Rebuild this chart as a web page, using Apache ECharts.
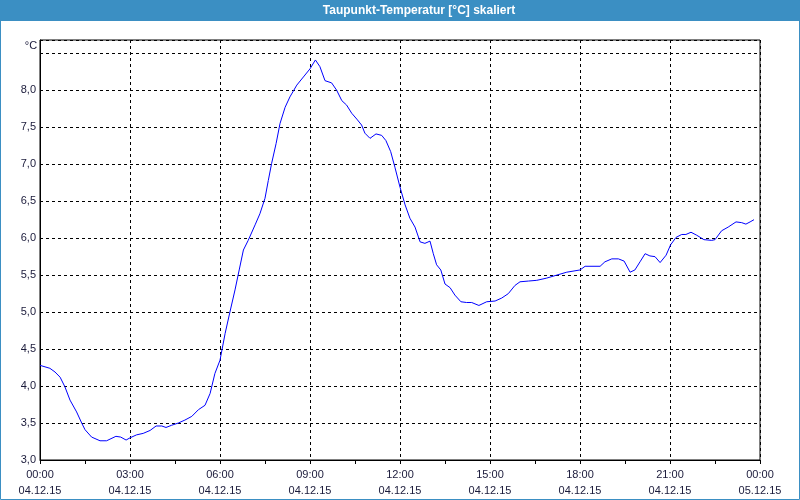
<!DOCTYPE html>
<html><head><meta charset="utf-8">
<script src="https://cdn.jsdelivr.net/npm/echarts@6/dist/echarts.min.js"></script>
<style>html,body{margin:0;padding:0;background:#fff}#c{width:800px;height:500px}</style>
</head><body><div id="c"></div>
<script>
const chartTitle = 'Taupunkt-Temperatur [°C] skaliert';
const unitLabel = '°C';
const hours = [0,0.33,0.5,0.67,0.83,1.0,1.22,1.39,1.5,1.72,2.0,2.22,2.53,2.69,2.87,3.0,3.22,3.44,3.67,3.87,4.06,4.2,4.39,4.61,4.83,5.06,5.28,5.5,5.67,5.83,6.0,6.17,6.33,6.5,6.64,6.78,6.94,7.17,7.33,7.5,7.61,7.72,7.87,8.0,8.17,8.33,8.56,8.78,9.0,9.18,9.33,9.5,9.72,9.89,10.06,10.22,10.39,10.56,10.72,10.83,11.0,11.2,11.39,11.53,11.69,11.83,12.0,12.17,12.33,12.5,12.67,12.83,13.0,13.11,13.22,13.36,13.5,13.67,13.83,14.03,14.22,14.39,14.63,14.89,15.17,15.39,15.61,15.83,16.0,16.28,16.56,16.89,17.22,17.56,18.0,18.17,18.67,18.83,19.06,19.28,19.47,19.67,19.83,20.0,20.17,20.33,20.5,20.67,20.87,21.02,21.2,21.39,21.53,21.7,21.89,22.13,22.39,22.5,22.72,22.94,23.2,23.39,23.53,23.67,23.8];
const dewPoint = [4.28,4.24,4.19,4.12,3.99,3.81,3.65,3.50,3.41,3.31,3.26,3.26,3.32,3.31,3.27,3.30,3.34,3.36,3.40,3.46,3.46,3.44,3.47,3.50,3.54,3.59,3.68,3.74,3.90,4.17,4.35,4.71,5.00,5.30,5.57,5.84,5.97,6.18,6.33,6.54,6.78,7.01,7.28,7.55,7.77,7.91,8.07,8.18,8.29,8.41,8.32,8.13,8.10,8.00,7.86,7.80,7.69,7.61,7.53,7.42,7.35,7.41,7.39,7.32,7.17,6.96,6.69,6.45,6.27,6.15,5.95,5.93,5.96,5.79,5.64,5.57,5.38,5.33,5.23,5.14,5.13,5.13,5.09,5.14,5.15,5.19,5.25,5.36,5.41,5.42,5.43,5.46,5.50,5.54,5.57,5.62,5.62,5.68,5.72,5.72,5.69,5.54,5.57,5.68,5.79,5.76,5.75,5.67,5.77,5.91,6.01,6.05,6.05,6.08,6.04,5.98,5.97,5.98,6.10,6.15,6.22,6.21,6.19,6.22,6.25];
const timeLabels = ['00:00','03:00','06:00','09:00','12:00','15:00','18:00','21:00','00:00'];
const dateLabels = ['04.12.15','04.12.15','04.12.15','04.12.15','04.12.15','04.12.15','04.12.15','04.12.15','05.12.15'];

const chart = echarts.init(document.getElementById('c'), null, {renderer:'canvas'});
const font = 'Liberation Sans';
const txtColor = '#1a1a3a';
chart.setOption({
  animation: false,
  backgroundColor: '#ffffff',
  graphic: [
    {type:'rect', shape:{x:0,y:0,width:800,height:21}, style:{fill:'#3b8fc3'}, z:0},
    {type:'rect', shape:{x:0.5,y:0.5,width:799,height:499}, style:{fill:null, stroke:'#3b8fc3', lineWidth:1}, z:0},
    {type:'text', x:419, y:11, style:{text:chartTitle, fill:'#ffffff', font:'bold 12px "Liberation Sans"', align:'center', verticalAlign:'middle'}, z:10},
    {type:'text', x:31, y:46, style:{text:unitLabel, fill:txtColor, font:'11px "Liberation Sans"', align:'center', verticalAlign:'middle'}, z:10}
  ],
  grid: {left:40, right:40, top:40, bottom:40, show:true, borderColor:'#000', borderWidth:1, backgroundColor:'transparent'},
  xAxis: {
    type:'value', min:0, max:24, interval:3,
    axisLine:{show:true, lineStyle:{color:'#000', width:1}},
    axisTick:{show:true, length:4, lineStyle:{color:'#000'}},
    minorTick:{show:true, splitNumber:2, length:4, lineStyle:{color:'#000'}},
    splitLine:{show:true, lineStyle:{color:'#000', type:[3,3], width:1}},
    axisLabel:{
      color:txtColor, fontFamily:font, fontSize:11, lineHeight:16, margin:7,
      formatter: function(v){ const i = Math.round(v/3); return timeLabels[i] + '\n' + dateLabels[i]; }
    }
  },
  yAxis: {
    type:'value', min:3, max:8.68, interval:0.5,
    axisLine:{show:true, lineStyle:{color:'#000', width:1}},
    axisTick:{show:false},
    splitLine:{show:true, lineStyle:{color:'#000', type:[3,3], width:1}},
    axisLabel:{
      color:txtColor, fontFamily:font, fontSize:11, margin:4,
      formatter: function(v){
        if (v > 8.01) return '';
        if (Math.abs(v*2 - Math.round(v*2)) > 1e-6) return '';
        return v.toFixed(1).replace('.', ',');
      }
    }
  },
  series: [{
    type:'line', data: hours.map((h,i)=>[h, dewPoint[i]]),
    showSymbol:false, symbol:'none', smooth:false,
    lineStyle:{color:'#0000ff', width:1}, z:5
  }]
});
</script></body></html>
